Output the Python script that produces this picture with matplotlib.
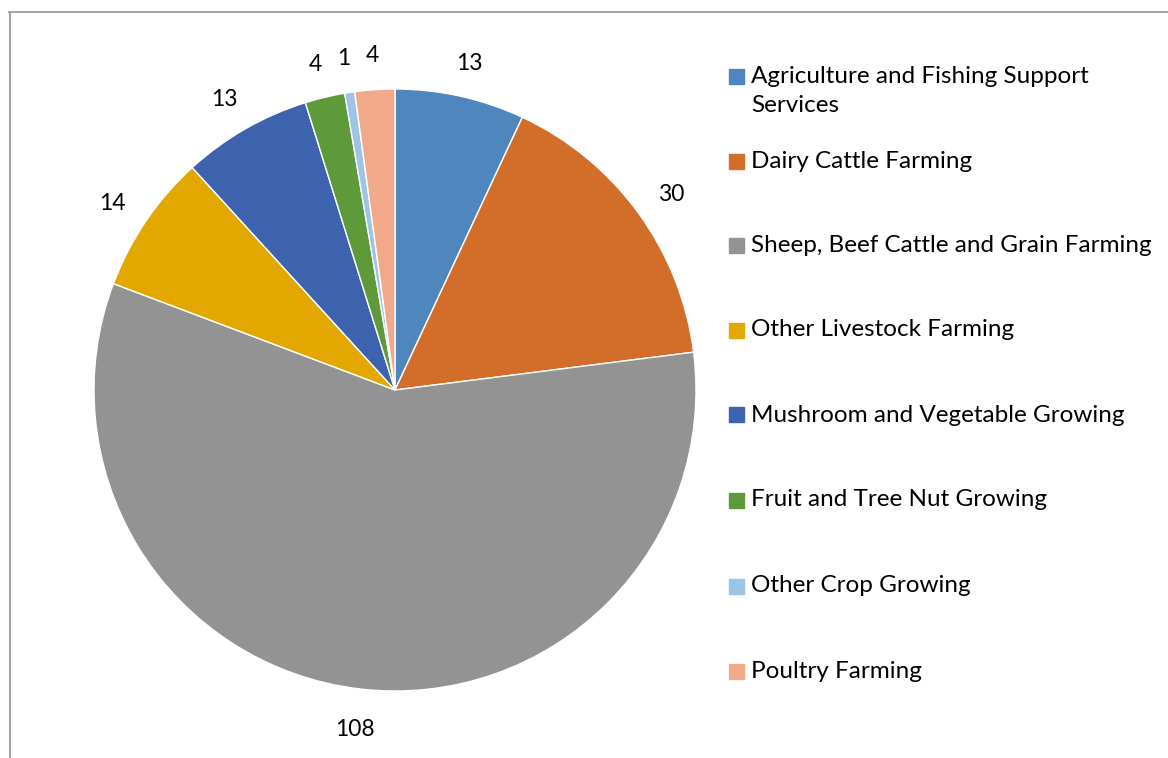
import matplotlib
matplotlib.use("Agg")
import matplotlib.pyplot as plt
from matplotlib.patches import Rectangle
from matplotlib.lines import Line2D

categories = [
    "Agriculture and Fishing Support\nServices",
    "Dairy Cattle Farming",
    "Sheep, Beef Cattle and Grain Farming",
    "Other Livestock Farming",
    "Mushroom and Vegetable Growing",
    "Fruit and Tree Nut Growing",
    "Other Crop Growing",
    "Poultry Farming",
]
values = [13, 30, 108, 14, 13, 4, 1, 4]
colors = ["#4F86BE", "#D26E2A", "#939393", "#E2A800", "#3D63AE", "#5F9A3A", "#9DC3E6", "#F1A98A"]

plt.rcParams['font.family'] = ['Lato', 'DejaVu Sans']

W, H = 1168, 758
fig = plt.figure(figsize=(W / 100, H / 100), dpi=100)

# frame lines (top and left)
fig.add_artist(Line2D([9 / W, 1], [1 - 12 / H, 1 - 12 / H], color="#a6a6a6", lw=1.5, transform=fig.transFigure))
fig.add_artist(Line2D([10 / W, 10 / W], [0, 1 - 12 / H], color="#a6a6a6", lw=1.5, transform=fig.transFigure))

cx, cy, R = 395, 390, 301
ax = fig.add_axes([(cx - R) / W, (H - cy - R) / H, 2 * R / W, 2 * R / H])
wedges, texts = ax.pie(values, colors=colors, startangle=90, counterclock=False, radius=1,
                       labels=[str(v) for v in values], labeldistance=1.125,
                       textprops=dict(fontsize=16.5, color="#000000"),
                       wedgeprops=dict(edgecolor="white", linewidth=1))
for t in texts:
    t.set_ha("center")
    x, y = t.get_position()
    t.set_position((x * 1.01, y - 0.012))
ax.set_xlim(-1, 1)
ax.set_ylim(-1, 1)
ax.set_aspect("equal")
ax.axis("off")

# legend
ys = [76, 161, 245, 330, 415, 500, 586, 671]
for i, (lab, col, yy) in enumerate(zip(categories, colors, ys)):
    fig.add_artist(Rectangle((729 / W, 1 - (yy + 7.5) / H), 15 / W, 15 / H, color=col,
                             transform=fig.transFigure))
    if "\n" in lab:
        fig.text(751 / W, 1 - (yy + 15) / H, lab, fontsize=17.5, va="center", ha="left",
                 linespacing=1.52, color="#000000")
    else:
        fig.text(751 / W, 1 - yy / H, lab, fontsize=17.5, va="center", ha="left", color="#000000")

fig.savefig("out.png", dpi=100)
